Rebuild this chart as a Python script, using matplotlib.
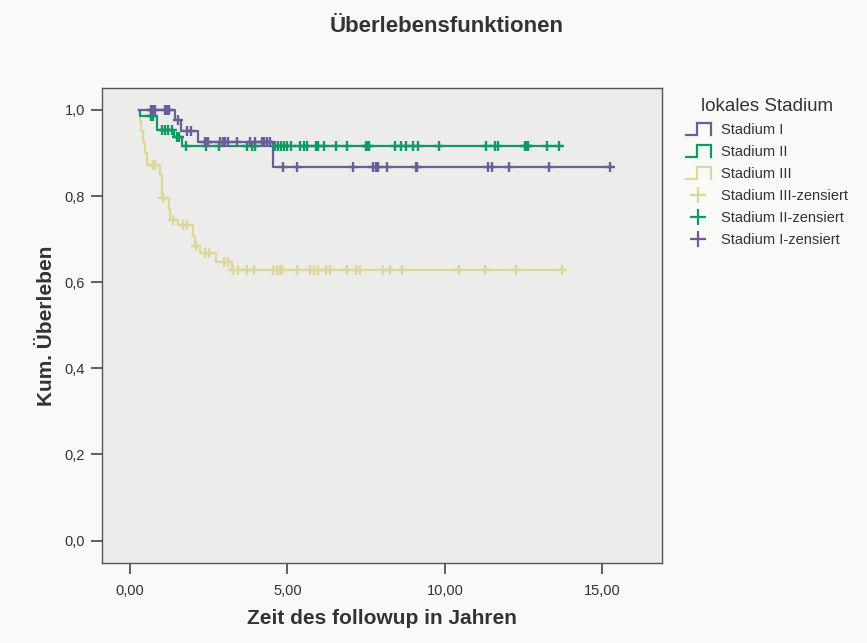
import numpy as np
import matplotlib
matplotlib.use("Agg")
import matplotlib.pyplot as plt
from matplotlib.lines import Line2D
from matplotlib.legend_handler import HandlerBase

plt.rcParams['font.family'] = ['Liberation Sans', 'DejaVu Sans']

# ---------------- data ----------------
title = "Überlebensfunktionen"
xlabel = "Zeit des followup in Jahren"
ylabel = "Kum. Überleben"
legend_title = "lokales Stadium"
group_names = ["Stadium I", "Stadium II", "Stadium III"]

x_ticks = [0, 5, 10, 15]
x_tick_labels = ["0,00", "5,00", "10,00", "15,00"]
y_ticks = [0.0, 0.2, 0.4, 0.6, 0.8, 1.0]
y_tick_labels = ["0,0", "0,2", "0,4", "0,6", "0,8", "1,0"]

# Stadium I
s1_start = 0.30
s1_event_t = [1.43, 1.61, 2.16, 4.53]
s1_event_s = [0.976, 0.951, 0.926, 0.867]
s1_end = 15.30
s1_cens = [0.66, 0.72, 0.79, 1.11, 1.19, 1.25, 1.53, 1.82, 1.93, 2.38, 2.43, 2.48,
           2.86, 2.95, 3.02, 3.11, 3.39, 3.81, 3.97, 4.18, 4.26, 4.34, 4.45,
           4.85, 5.31, 7.07, 7.73, 7.81, 7.89, 8.15, 9.08, 9.12, 11.38, 11.49,
           12.04, 13.32, 15.25]

# Stadium II
s2_start = 0.30
s2_event_t = [0.33, 0.87, 1.40, 1.65]
s2_event_s = [0.986, 0.953, 0.937, 0.916]
s2_end = 13.70
s2_cens = [0.66, 0.74, 1.01, 1.12, 1.22, 1.32, 1.48, 1.57, 1.78, 2.41, 2.84, 3.71,
           3.87, 3.97, 4.61, 4.71, 4.80, 4.89, 4.98, 5.10, 5.40, 5.53, 5.63, 5.91,
           5.98, 6.16, 6.54, 6.88, 7.50, 7.54, 7.60, 8.42, 8.60, 8.77, 8.98, 9.16,
           9.83, 11.31, 11.60, 11.70, 12.55, 12.60, 12.65, 13.24, 13.64]

# Stadium III
s3_start = 0.30
s3_event_t = [0.32, 0.36, 0.42, 0.48, 0.55, 0.95, 1.00, 1.03, 1.24, 1.27, 1.53,
              1.99, 2.05, 2.22, 2.73, 3.23]
s3_event_s = [0.975, 0.95, 0.925, 0.90, 0.872, 0.85, 0.825, 0.795, 0.77, 0.745,
              0.733, 0.708, 0.683, 0.667, 0.648, 0.629]
s3_end = 13.75
s3_cens = [0.72, 0.79, 1.06, 1.36, 1.69, 1.80, 2.10, 2.38, 2.52, 2.97, 3.10, 3.26,
           3.42, 3.71, 3.94, 4.55, 4.66, 4.77, 4.82, 5.29, 5.72, 5.85, 5.96, 6.23,
           6.35, 6.88, 7.17, 7.31, 8.03, 8.26, 8.65, 10.46, 11.28, 12.26, 13.71]

colors = ["#6b5d98", "#0e9a64", "#ddd79c"]

groups = [
    (s1_start, s1_event_t, s1_event_s, s1_end, s1_cens),
    (s2_start, s2_event_t, s2_event_s, s2_end, s2_cens),
    (s3_start, s3_event_t, s3_event_s, s3_end, s3_cens),
]

# ---------------- figure ----------------
fig = plt.figure(figsize=(8.67, 6.43), dpi=100)
fig.patch.set_facecolor("#f9f9f7")
ax = fig.add_axes([101.7 / 867, 1 - 563 / 643, (661.7 - 101.7) / 867, (563 - 88) / 643])
ax.set_facecolor("#ececeb")

lw = 1.6
for i in [2, 1, 0]:
    start, et, es, end, cens = groups[i]
    t = np.concatenate([[start], et, [end]])
    s = np.concatenate([[1.0], es, [es[-1]]])
    ax.step(t, s, where="post", color=colors[i], lw=lw, zorder=2)
    ct = np.asarray(cens)
    idx = np.searchsorted(np.asarray(et), ct, side="right")
    cs = np.concatenate([[1.0], es])[idx]
    ax.plot(ct, cs, linestyle="none", marker="+", markersize=7.5, mew=1.7,
            color=colors[i], zorder=3)

ax.set_xlim(-0.9, 16.89)
ax.set_ylim(-0.052, 1.051)
ax.set_xticks(x_ticks)
ax.set_xticklabels(x_tick_labels)
ax.set_yticks(y_ticks)
ax.set_yticklabels(y_tick_labels)
for sp in ax.spines.values():
    sp.set_color("#555555")
    sp.set_linewidth(1.0)
ax.tick_params(axis="both", direction="out", length=8, width=1.2, color="#444444",
               labelsize=10.5, labelcolor="#333333", pad=4)
ax.tick_params(axis="x", pad=7)

ax.set_xlabel(xlabel, fontsize=15, fontweight="bold", color="#333333", labelpad=8)
ax.set_ylabel(ylabel, fontsize=15, fontweight="bold", color="#333333", labelpad=6)
fig.text(447 / 867, 1 - 27 / 643, title, fontsize=16, fontweight="bold",
         color="#333333", ha="center", va="center")


# ---------------- legend ----------------
class StepHandler(HandlerBase):
    def create_artists(self, legend, orig_handle, xdescent, ydescent, width,
                       height, fontsize, trans):
        x0 = -xdescent
        y0 = -ydescent - 0.15 * height
        h = height * 1.25
        xs = [x0, x0 + width * 0.45, x0 + width * 0.45, x0 + width, x0 + width]
        ys = [y0, y0, y0 + h, y0 + h, y0]
        ln = Line2D(xs, ys, color=orig_handle.get_color(), lw=1.6,
                    solid_joinstyle="miter")
        ln.set_transform(trans)
        return [ln]


step_handles = [Line2D([], [], color=c) for c in colors]
cens_handles = [Line2D([], [], linestyle="none", marker="+", markersize=12,
                       mew=1.6, color=c) for c in colors]
handles = step_handles + cens_handles[::-1]
labels = group_names + [g + "-zensiert" for g in group_names[::-1]]
hmap = {h: StepHandler() for h in step_handles}
leg = fig.legend(handles, labels, handler_map=hmap, loc="upper left",
                 bbox_to_anchor=(680 / 867, 1 - 92 / 643), frameon=False,
                 fontsize=10.5, title=legend_title, title_fontsize=13.5,
                 handlelength=1.7, handletextpad=0.7, labelspacing=0.55,
                 borderaxespad=0)
for txt in leg.get_texts():
    txt.set_color("#333333")
leg.get_title().set_color("#333333")

fig.savefig("out.png", dpi=100, facecolor=fig.get_facecolor())
